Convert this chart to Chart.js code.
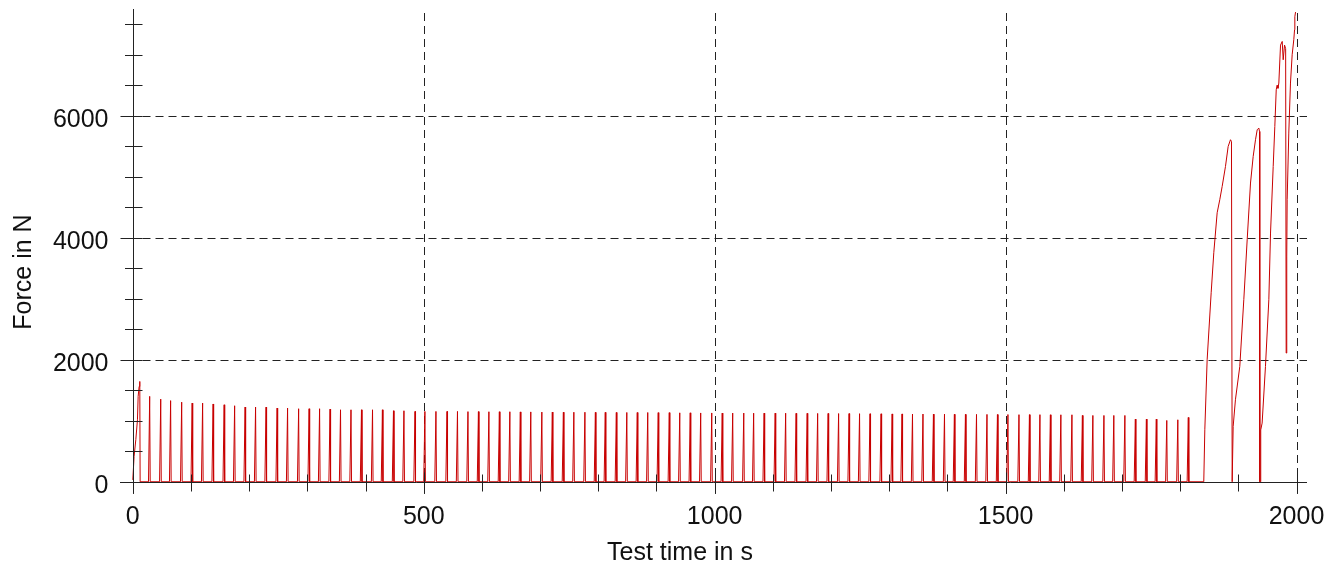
<!DOCTYPE html>
<html>
<head>
<meta charset="utf-8">
<script src="https://cdn.jsdelivr.net/npm/chart.js@4.4.1/dist/chart.umd.min.js"></script>
<style>
  html, body { margin: 0; padding: 0; background: #fff; }
  #wrap { width: 1326px; height: 565px; position: relative; }
</style>
</head>
<body>
<div id="wrap"><canvas id="graphic"></canvas></div>
<script>
// axes et libellés
const xTicks = [0, 500, 1000, 1500, 2000];
const yTicks = [0, 2000, 4000, 6000];
const xTitle = 'Test time in s';
const yTitle = 'Force in N';

// montée initiale (s, N)
const startTime = [0, 2.2, 5.2, 8, 9.2, 10.9, 12, 12.6];
const startForce = [30, 415, 690, 1016, 1400, 1562, 1644, 0];

// pics réguliers : instant du sommet (s) et force max (N)
const spikeTime = [
  29, 48, 65, 84, 102, 120, 138, 157, 175, 193, 211, 229, 248, 266, 285, 303, 321, 339, 357, 375,
  393, 412, 429, 448, 466, 485, 502, 521,
  540, 558, 576, 594, 612, 630, 648, 666, 684, 703, 721, 740, 758, 777, 795, 812, 831, 849, 867, 885,
  903, 922, 940, 958, 976, 995, 1013, 1031, 1050, 1067,
  1085, 1104, 1122, 1140, 1159, 1177, 1195, 1213, 1231, 1249, 1267, 1286, 1305, 1322, 1340, 1358,
  1376, 1395, 1412, 1431, 1450, 1468, 1486, 1504, 1523, 1541, 1559, 1577, 1595, 1614,
  1632, 1650, 1669, 1686, 1705, 1723, 1742, 1759, 1777, 1796, 1814
];
const spikePeak = [
  1400, 1355, 1330, 1305, 1290, 1290, 1275, 1262, 1246, 1225, 1225, 1224, 1208, 1208, 1197, 1197, 1197, 1191, 1180, 1180,
  1180, 1180, 1180, 1164, 1164, 1153, 1153, 1153,
  1153, 1153, 1150, 1150, 1148, 1148, 1148, 1145, 1145, 1142, 1142, 1140, 1140, 1140, 1138, 1138, 1136, 1136, 1135, 1135,
  1133, 1133, 1130, 1130, 1128, 1128, 1126, 1126, 1126, 1124,
  1125, 1125, 1124, 1122, 1122, 1120, 1120, 1118, 1118, 1116, 1115, 1114, 1112, 1112, 1110, 1110,
  1108, 1108, 1106, 1105, 1104, 1104, 1102, 1102, 1100, 1100, 1100, 1098, 1098, 1098,
  1087, 1087, 1087, 1087, 1087, 1027, 1027, 1027, 1005, 1016, 1054
];

// fin d'essai : grandes rampes (s, N)
const endTime = [
  1840.6, 1842.4, 1846.4, 1853.3, 1857.8, 1863.6, 1868.1, 1872.2, 1877.9, 1882.5, 1886.5, 1888.2, 1889.4,
  1889.9, 1891.1, 1895.0, 1902.5, 1909.4, 1915.2, 1920.9, 1925.5, 1929.5, 1932.4, 1935.2, 1936.4, 1936.9,
  1937.6, 1938.5, 1940.9, 1946.6, 1952.4, 1955.3, 1959.9, 1962.7, 1965.1, 1966.6, 1968.1, 1969.6, 1972.5,
  1975.4, 1977.1, 1979.4, 1981.3, 1982.2, 1983.2, 1983.9, 1986.7, 1989.6, 1992.5, 1995.3, 1996.6, 1997.1, 1998.3
];
const endForce = [
  0, 852, 2000, 3098, 3754, 4410, 4623, 4841, 5169, 5497, 5607, 5579, 0,
  0, 907, 1344, 1890, 2984, 3967, 4897, 5333, 5607, 5770, 5798, 5743, 0,
  0, 850, 962, 1890, 2984, 4077, 5169, 5825, 6426, 6500, 6450, 6536, 7158,
  7218, 6918, 7159, 7100, 2110, 3700, 4623, 5716, 6536, 7000, 7246, 7410, 7623, 7700
];

// construit la courbe
const points = [];
startTime.forEach((t, i) => points.push({ x: t, y: startForce[i] }));
spikeTime.forEach((t, i) => {
  points.push({ x: t - 2, y: 0 });
  points.push({ x: t, y: spikePeak[i] });
  points.push({ x: t + 0.9, y: 0 });
});
endTime.forEach((t, i) => points.push({ x: t, y: endForce[i] }));

const font = '25px "Liberation Sans", Arial, sans-serif';

// axes, graduations et grille dessinés à la main
const axesPlugin = {
  id: 'axes',
  beforeDatasetsDraw(chart) {
    const { ctx, chartArea, scales: { x, y } } = chart;
    ctx.save();
    ctx.strokeStyle = '#222';
    ctx.lineWidth = 1;
    ctx.setLineDash([8, 5]);
    const x0 = Math.round(x.getPixelForValue(0)) + 0.5;
    const yBottom = y.getPixelForValue(-200);
    xTicks.forEach(v => {
      if (v === 0) return;
      const px = Math.round(x.getPixelForValue(v)) + 0.5;
      ctx.beginPath();
      ctx.moveTo(px, chartArea.top + 4);
      ctx.lineTo(px, yBottom);
      ctx.stroke();
    });
    yTicks.forEach(v => {
      if (v === 0) return;
      const py = Math.round(y.getPixelForValue(v)) + 0.5;
      ctx.beginPath();
      ctx.moveTo(x0 + 9, py);
      ctx.lineTo(chartArea.right, py);
      ctx.stroke();
    });
    ctx.restore();
  },
  afterDatasetsDraw(chart) {
    const { ctx, chartArea, scales: { x, y } } = chart;
    const x0 = Math.round(x.getPixelForValue(0)) + 0.5;
    const y0 = Math.round(y.getPixelForValue(0)) + 0.5;
    const yBottom = y.getPixelForValue(-200);
    ctx.save();
    ctx.strokeStyle = '#222';
    ctx.lineWidth = 1;

    // lignes d'axe
    ctx.beginPath();
    ctx.moveTo(x0, chartArea.top);
    ctx.lineTo(x0, yBottom);
    ctx.moveTo(chartArea.left, y0);
    ctx.lineTo(chartArea.right, y0);
    ctx.stroke();

    // graduations
    ctx.beginPath();
    for (let v = 500; v <= 7500; v += 500) {
      const py = Math.round(y.getPixelForValue(v)) + 0.5;
      const left = (v % 2000 === 0) ? x0 - 13 : x0 - 8.5;
      ctx.moveTo(left, py);
      ctx.lineTo(x0 + 9, py);
    }
    for (let v = 100; v <= 2000; v += 100) {
      const px = Math.round(x.getPixelForValue(v)) + 0.5;
      if (v % 500 === 0) {
        ctx.moveTo(px, y0 - 10);
        ctx.lineTo(px, yBottom);
      } else {
        ctx.moveTo(px, y0 - 8);
        ctx.lineTo(px, y0 + 9);
      }
    }
    ctx.stroke();

    // libellés
    ctx.fillStyle = '#111';
    ctx.font = font;
    ctx.textAlign = 'center';
    ctx.textBaseline = 'alphabetic';
    xTicks.forEach(v => ctx.fillText(String(v), x.getPixelForValue(v), 524));
    ctx.textAlign = 'right';
    yTicks.forEach(v => ctx.fillText(String(v), x0 - 25, y.getPixelForValue(v) + 11));

    ctx.textAlign = 'center';
    ctx.fillText(xTitle, 680, 560);
    ctx.translate(31, 272);
    ctx.rotate(-Math.PI / 2);
    ctx.fillText(yTitle, 0, 0);
    ctx.restore();
  }
};

new Chart(document.getElementById('graphic'), {
  type: 'line',
  data: {
    datasets: [{
      data: points,
      borderColor: '#c80000',
      borderWidth: 1,
      pointRadius: 0,
      tension: 0,
      fill: false
    }]
  },
  options: {
    responsive: true,
    maintainAspectRatio: false,
    animation: false,
    layout: { padding: { left: 120, right: 19, top: 9, bottom: 68 } },
    plugins: { legend: { display: false }, tooltip: { enabled: false } },
    scales: {
      x: { type: 'linear', min: -22, max: 2018, display: false },
      y: { min: -250, max: 7750, display: false }
    }
  },
  plugins: [axesPlugin]
});
</script>
</body>
</html>
